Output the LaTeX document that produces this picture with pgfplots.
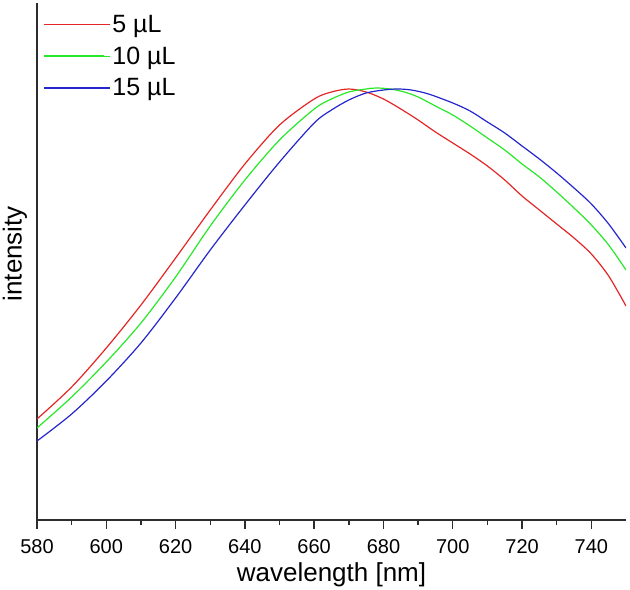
\documentclass[border=0pt]{standalone}
\usepackage{pgfplots}
\pgfplotsset{compat=1.18}
\usepackage{fontspec}
\setmainfont{Liberation Sans}
\definecolor{cred}{RGB}{228,38,38}
\definecolor{cgreen}{RGB}{40,232,40}
\definecolor{cblue}{RGB}{38,38,205}
\definecolor{axgray}{RGB}{45,45,45}
\begin{document}
\begin{tikzpicture}
\begin{axis}[
  width=589pt, height=517pt, scale only axis,
  xmin=580, xmax=750, ymin=0, ymax=517,
  axis x line=bottom, axis y line=left,
  axis line style={-, line width=1.6pt, draw=axgray},
  xtick={580,600,...,740}, minor x tick num=1,
  ytick=\empty,
  tick align=outside,
  major tick length=9pt, minor tick length=5pt,
  tick style={line width=1.4pt, draw=axgray},
  x tick label style={font=\fontsize{20}{24}\selectfont, yshift=-7pt},
  /pgf/number format/assume math mode=true,
  /pgf/number format/1000 sep={},
  xlabel={wavelength [nm]},
  ylabel={intensity},
  xlabel style={font=\fontsize{26}{30}\selectfont, yshift=-2pt},
  ylabel style={font=\fontsize{26}{30}\selectfont, at={(axis description cs:-0.011,0.515)}, anchor=south},
  legend style={draw=none, fill=none, at={(axis description cs:0.005,0.985)}, anchor=north west,
    font=\fontsize{25}{30}\selectfont, row sep=9pt},
  legend cell align=left,
  legend image code/.code={\draw[#1, line width=1.3pt] plot coordinates {(0pt,0pt) (30pt,0pt) (60pt,0pt)}; \path (0pt,0pt) -- (66pt,0pt);},
  every axis plot/.append style={line width=1.2pt, smooth},
]
\addplot[cred] coordinates {
(580,101) (590,133) (600,172) (610,215) (620,262) (630,310) (640,356) (650,395) (660,421) (665,428) (670,431) (675,428) (680,421) (685,411) (690,400) (695,388) (700,377) (705,366) (710,354) (715,340) (720,324) (725,310) (730,296) (735,282) (740,266) (745,244) (750,214)};
\addlegendentry{5 µL}
\addplot[cgreen] coordinates {
(580,92) (590,123) (600,158) (610,197) (620,243) (630,294) (640,340) (650,380) (660,411) (665,421) (670,428) (675,431) (678,432) (682,431) (686,428) (690,423) (695,414) (700,405) (705,394) (710,382) (715,370) (720,356) (725,343) (730,328) (735,312) (740,295) (745,275) (750,250)};
\addlegendentry{10 µL}
\addplot[cblue] coordinates {
(580,79) (590,106) (600,139) (610,177) (620,222) (630,270) (640,315) (650,358) (660,397) (665,410) (670,420) (675,427) (680,430) (684,431) (688,430) (693,426) (700,417) (705,409) (710,398) (715,387) (720,374) (725,361) (730,347) (735,332) (740,316) (745,296) (750,272)};
\addlegendentry{15 µL}
\end{axis}
\pgfresetboundingbox
\path ([xshift=-37pt,yshift=-69pt]current axis.south west) rectangle ([xshift=4pt,yshift=3pt]current axis.north east);
\end{tikzpicture}
\end{document}
